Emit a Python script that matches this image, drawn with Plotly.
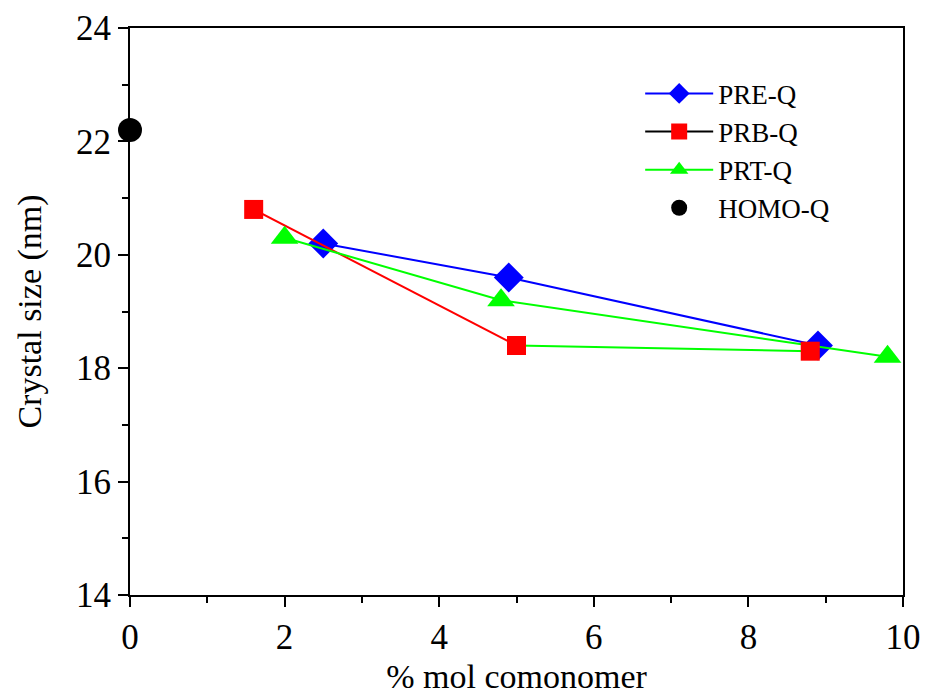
import plotly.graph_objects as go

# Crystal size vs. comonomer content
pre_x = [2.5, 4.9, 8.9]
pre_y = [20.2, 19.6, 18.4]

prb_x = [1.6, 5.0, 8.8]
prb_y = [20.8, 18.4, 18.3]

prt_x = [2.0, 4.8, 9.8]
prt_y = [20.3, 19.2, 18.2]

homo_x = [0.0]
homo_y = [22.2]

x_ticks = [0, 2, 4, 6, 8, 10]
y_ticks = [14, 16, 18, 20, 22, 24]

FONT = "Liberation Serif, Times New Roman, serif"
BLUE = "#0000ff"
RED = "#ff0000"
GREEN = "#00ff00"

fig = go.Figure()

# PRE-Q
fig.add_trace(go.Scatter(
    x=pre_x, y=pre_y, mode="lines+markers", name="PRE-Q",
    line=dict(color=BLUE, width=2),
    marker=dict(symbol="diamond", size=23, color=BLUE),
    showlegend=False,
))

# PRB-Q: first segment red, second segment green
fig.add_trace(go.Scatter(
    x=prb_x[:2], y=prb_y[:2], mode="lines",
    line=dict(color=RED, width=2), showlegend=False, hoverinfo="skip",
))
fig.add_trace(go.Scatter(
    x=prb_x[1:], y=prb_y[1:], mode="lines",
    line=dict(color=GREEN, width=2), showlegend=False, hoverinfo="skip",
))

# PRT-Q
fig.add_trace(go.Scatter(
    x=prt_x, y=prt_y, mode="lines+markers", name="PRT-Q",
    line=dict(color=GREEN, width=2),
    marker=dict(symbol="triangle-up", size=24, color=GREEN),
    showlegend=False, cliponaxis=False,
))

fig.add_trace(go.Scatter(
    x=prb_x, y=prb_y, mode="markers", name="PRB-Q",
    marker=dict(symbol="square", size=19, color=RED),
    showlegend=False,
))

# HOMO-Q
fig.add_trace(go.Scatter(
    x=homo_x, y=homo_y, mode="markers", name="HOMO-Q",
    marker=dict(symbol="circle", size=24, color="black"),
    showlegend=False, cliponaxis=False,
))

# legend entries
fig.add_trace(go.Scatter(
    x=[None], y=[None], mode="lines+markers", name="PRE-Q",
    line=dict(color=BLUE, width=2),
    marker=dict(symbol="diamond", size=23, color=BLUE),
))
fig.add_trace(go.Scatter(
    x=[None], y=[None], mode="lines+markers", name="PRB-Q",
    line=dict(color="black", width=2),
    marker=dict(symbol="square", size=19, color=RED),
))
fig.add_trace(go.Scatter(
    x=[None], y=[None], mode="lines+markers", name="PRT-Q",
    line=dict(color=GREEN, width=2),
    marker=dict(symbol="triangle-up", size=24, color=GREEN),
))
fig.add_trace(go.Scatter(
    x=[None], y=[None], mode="markers", name="HOMO-Q",
    marker=dict(symbol="circle", size=24, color="black"),
))

axis_common = dict(
    showgrid=False, zeroline=False, automargin=False,
    showline=True, linecolor="black", linewidth=2, mirror=True,
    ticks="outside", ticklen=10, tickwidth=2, tickcolor="black",
    tickfont=dict(family=FONT, size=35, color="black"),
    minor=dict(ticks="outside", ticklen=6, tickwidth=2, tickcolor="black", dtick=1),
)

fig.update_xaxes(
    range=[0, 10], tickvals=x_ticks, ticktext=[str(v) for v in x_ticks],
    title=dict(text="% mol comonomer", font=dict(family=FONT, size=34, color="black"), standoff=14),
    **axis_common,
)
fig.update_yaxes(
    range=[14, 24], tickvals=y_ticks, ticktext=[str(v) for v in y_ticks],
    title=dict(text="Crystal size (nm)", font=dict(family=FONT, size=34, color="black"), standoff=24),
    **axis_common,
)

fig.update_layout(
    width=925, height=695,
    margin=dict(l=130, r=22, t=28, b=100),
    paper_bgcolor="white", plot_bgcolor="white",
    font=dict(family=FONT, color="black"),
    legend=dict(
        x=0.66, y=0.927, xanchor="left", yanchor="top",
        font=dict(family=FONT, size=27, color="black"),
        bgcolor="rgba(0,0,0,0)", itemwidth=68, tracegroupgap=0,
    ),
)

fig.write_html("out.html")
